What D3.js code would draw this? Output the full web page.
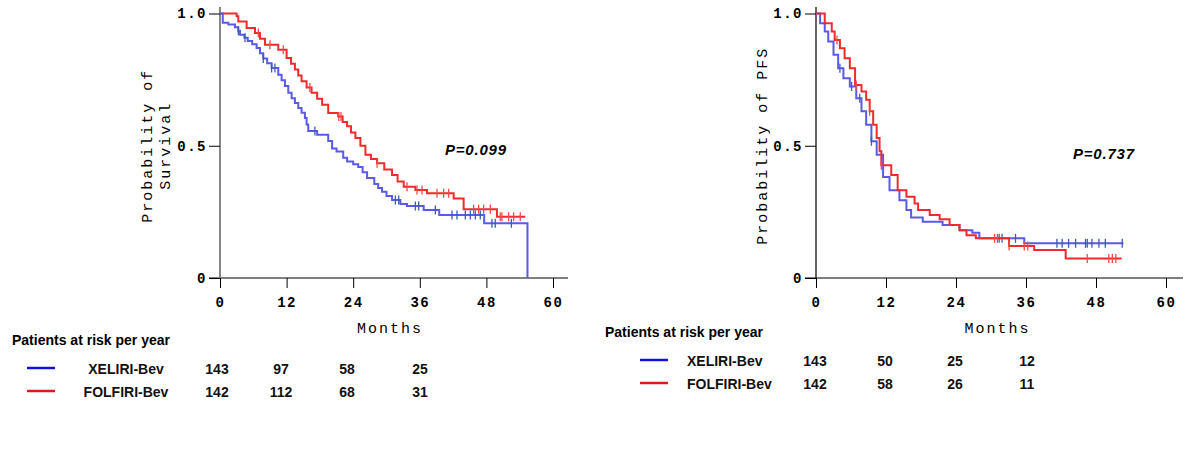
<!DOCTYPE html>
<html><head><meta charset="utf-8">
<script src="https://cdn.jsdelivr.net/npm/d3@7"></script>
<style>
body{margin:0;background:#fff;}
svg{display:block;}
.tick text{font-family:"Liberation Mono","Courier New",monospace;font-weight:bold;font-size:14px;letter-spacing:1.5px;}
</style></head>
<body>
<svg id="c" width="1200" height="458"></svg>
<script>
// ---------- data ----------
const xTickValues = [0, 12, 24, 36, 48, 60];
const yTickValues = [0, 0.5, 1.0];
const yTickLabels = ["0", "0.5", "1.0"];
const seriesNames = ["XELIRI-Bev", "FOLFIRI-Bev"];
const riskMonths = [0, 12, 24, 36];

// Overall survival (left)
const osXeliri = [[0,1],[0.5,0.965],[1.5,0.958],[2.7,0.948],[3.3,0.935],[3.6,0.92],[4.4,0.908],[5.0,0.896],[5.8,0.884],[6.6,0.87],[7.2,0.85],[7.8,0.83],[8.5,0.812],[9.3,0.794],[10.5,0.768],[11.1,0.748],[11.7,0.726],[12.3,0.70],[12.9,0.68],[13.5,0.662],[14.1,0.643],[14.7,0.625],[15.3,0.605],[15.6,0.58],[15.9,0.556],[17.5,0.542],[19.5,0.518],[20.2,0.49],[21.0,0.478],[22.2,0.455],[22.9,0.44],[24.0,0.43],[24.9,0.42],[25.7,0.40],[26.5,0.378],[27.8,0.355],[28.5,0.34],[29.2,0.326],[30.0,0.31],[31.0,0.295],[32.5,0.28],[33.7,0.272],[36.7,0.257],[39.5,0.238],[47.6,0.207],[55.4,0]];
const osFolfiri = [[0,1],[3.0,0.99],[3.3,0.97],[4.8,0.945],[6.3,0.926],[7.2,0.905],[8.1,0.882],[10.5,0.863],[12.0,0.832],[12.8,0.81],[13.5,0.788],[14.1,0.766],[14.7,0.744],[15.6,0.72],[16.5,0.70],[17.5,0.678],[18.4,0.655],[19.5,0.624],[21.3,0.611],[22.1,0.59],[22.9,0.574],[23.6,0.55],[24.4,0.529],[25.3,0.50],[26.2,0.466],[27.2,0.45],[28.3,0.434],[29.6,0.41],[31.0,0.389],[32.0,0.365],[33.1,0.345],[35.2,0.333],[37.3,0.32],[42.1,0.301],[43.9,0.26],[49.9,0.232],[55.0,0.232]];
const osXeliriCensor = [3.3,4.5,7.8,9.3,9.9,17.1,31.6,32.2,35.2,35.8,38.8,41.8,42.7,44.2,45.1,46.0,46.9,49.0,49.6,52.5];
const osFolfiriCensor = [6.9,9.0,11.4,16.2,21.4,21.8,28.3,33.7,35.5,36.4,39.1,40.3,41.2,45.7,46.6,47.5,48.7,50.5,50.8,52.0,52.9,54.1];
const osRiskXeliri = [143, 97, 58, 25];
const osRiskFolfiri = [142, 112, 68, 31];

// Progression-free survival (right)
const pfsXeliri = [[0,1],[0.7,0.963],[1.5,0.932],[2.1,0.894],[3.0,0.844],[3.8,0.793],[4.7,0.755],[5.8,0.724],[6.9,0.68],[7.8,0.63],[8.6,0.579],[9.5,0.517],[10.4,0.466],[11.5,0.382],[12.6,0.332],[14.3,0.294],[15.5,0.257],[16.3,0.229],[18.3,0.213],[21.7,0.2],[24.6,0.181],[26.8,0.171],[28.0,0.15],[35.7,0.131],[52.7,0.131]];
const pfsFolfiri = [[0,1],[1.5,0.963],[2.7,0.932],[3.2,0.9],[4.1,0.869],[4.9,0.831],[5.8,0.793],[6.7,0.73],[7.8,0.705],[8.6,0.674],[9.2,0.63],[9.8,0.579],[10.4,0.529],[10.9,0.479],[11.2,0.426],[12.9,0.389],[14.0,0.332],[15.5,0.307],[16.9,0.282],[17.5,0.257],[19.5,0.238],[21.2,0.222],[22.9,0.2],[24.6,0.181],[25.8,0.162],[27.4,0.15],[33.1,0.121],[37.4,0.106],[42.8,0.074],[52.4,0.074]];
const pfsXeliriCensor = [4.1,6.1,7.5,9.5,31.4,31.9,34.2,41.3,42.2,43.3,44.5,46.2,46.5,47.3,48.5,49.6,52.5];
const pfsFolfiriCensor = [3.6,6.9,9.2,11.2,30.6,31.1,33.1,35.7,36.3,46.5,50.2,50.8,51.4];
const pfsRiskXeliri = [143, 50, 25, 12];
const pfsRiskFolfiri = [142, 58, 26, 11];

// ---------- drawing ----------
const svg = d3.select("#c");
const monoFont = '"Liberation Mono","Courier New",monospace';
const sansFont = '"Liberation Sans",Arial,sans-serif';
const lineBlue = "#5a5ae6", censorBlue = "#3d5cae", lineRed = "#ef2b2b", censorRed = "#f24a4a";

function stepValue(data, t) {
  let v = data[0][1];
  for (const d of data) { if (d[0] <= t) v = d[1]; else break; }
  return v;
}

function panel(cfg) {
  const x = d3.scaleLinear().domain([0, 60]).range(cfg.xr);
  const y = d3.scaleLinear().domain([0, 1]).range([278, 13.5]);
  const g = svg.append("g");

  // axes lines
  g.append("line").attr("x1", x(0) - 11).attr("x2", cfg.xEnd).attr("y1", y(0)).attr("y2", y(0))
    .attr("stroke", "#000").attr("stroke-width", 1.2);
  g.append("line").attr("x1", x(0)).attr("x2", x(0)).attr("y1", y(0)).attr("y2", 7)
    .attr("stroke", cfg.yAxisColor).attr("stroke-width", cfg.yAxisWidth);

  const ax = g.append("g").attr("transform", `translate(0,${y(0)})`)
    .call(d3.axisBottom(x).tickValues(xTickValues).tickSize(10).tickPadding(6));
  ax.select(".domain").remove();
  ax.selectAll(".tick line").attr("stroke", "#000");
  ax.selectAll(".tick text").attr("fill", "#000").attr("dy", "0.9em");

  const ay = g.append("g").attr("transform", `translate(${x(0)},0)`)
    .call(d3.axisLeft(y).tickValues(yTickValues).tickSize(11).tickPadding(2)
      .tickFormat((d, i) => yTickLabels[i]));
  ay.select(".domain").remove();
  ay.selectAll(".tick line").attr("stroke", "#000");
  ay.selectAll(".tick text").attr("fill", "#000");

  const line = d3.line().x(d => x(d[0])).y(d => y(d[1])).curve(d3.curveStepAfter);
  const series = [
    {data: cfg.blue, censor: cfg.blueC, lc: lineBlue, cc: censorBlue},
    {data: cfg.red, censor: cfg.redC, lc: lineRed, cc: censorRed}
  ];
  cfg.order.forEach(i => {
    const s = series[i];
    g.append("path").datum(s.data).attr("d", line).attr("fill", "none")
      .attr("stroke", s.lc).attr("stroke-width", 2);
    g.selectAll(null).data(s.censor).enter().append("line")
      .attr("x1", d => x(d)).attr("x2", d => x(d))
      .attr("y1", d => y(stepValue(s.data, d)) - 4.5)
      .attr("y2", d => y(stepValue(s.data, d)) + 4.5)
      .attr("stroke", s.cc).attr("stroke-width", 1.3);
  });

  // axis titles
  const tx = cfg.titleX, ty = (y(0) + y(1)) / 2;
  const tt = g.append("text").attr("transform", `translate(${tx},${ty}) rotate(-90)`)
    .attr("text-anchor", "middle").attr("font-family", monoFont).attr("font-size", 15)
    .attr("letter-spacing", 2).attr("fill", "#000");
  cfg.title.forEach((t, i) => tt.append("tspan").attr("x", 0).attr("dy", i === 0 ? 0 : 18).text(t));

  g.append("text").attr("x", (x(0) + cfg.xEnd) / 2 + cfg.monthsDx).attr("y", 333)
    .attr("text-anchor", "middle").attr("font-family", monoFont).attr("font-size", 15)
    .attr("letter-spacing", 2).attr("fill", "#000").text("Months");

  g.append("text").attr("x", cfg.pX).attr("y", cfg.pY).attr("font-family", sansFont)
    .attr("font-size", 15).attr("font-weight", "bold").attr("font-style", "italic")
    .attr("letter-spacing", 0.8).attr("fill", "#000").text(cfg.pText);

  // risk table
  const L = cfg.legend;
  g.append("text").attr("x", L.titleX).attr("y", L.titleY).attr("font-family", sansFont)
    .attr("font-size", 14).attr("font-weight", "bold").attr("fill", "#000")
    .text("Patients at risk per year");
  const rows = [
    {name: seriesNames[0], vals: cfg.riskBlue, color: "#1010e0", y: L.row1},
    {name: seriesNames[1], vals: cfg.riskRed, color: "#e01818", y: L.row2}
  ];
  rows.forEach(r => {
    g.append("line").attr("x1", L.lineX[0]).attr("x2", L.lineX[1])
      .attr("y1", r.y - 6).attr("y2", r.y - 6).attr("stroke", r.color).attr("stroke-width", 2.5);
    g.append("text").attr("x", L.nameX).attr("y", r.y).attr("text-anchor", L.nameAnchor)
      .attr("font-family", sansFont).attr("font-size", 14).attr("font-weight", "bold")
      .attr("fill", "#111").text(r.name);
    g.selectAll(null).data(r.vals).enter().append("text")
      .attr("x", (d, i) => L.colX[i]).attr("y", r.y).attr("text-anchor", "middle")
      .attr("font-family", sansFont).attr("font-size", 14).attr("font-weight", "bold")
      .attr("fill", "#111").text(d => d);
  });
}

panel({
  xr: [220, 553], xEnd: 568, yAxisColor: "#7a7a7a", yAxisWidth: 1.8,
  blue: osXeliri, red: osFolfiri, blueC: osXeliriCensor, redC: osFolfiriCensor, order: [1, 0],
  title: ["Probability of", "Survival"], titleX: 152, monthsDx: -4,
  pText: "P=0.099", pX: 445, pY: 155,
  riskBlue: osRiskXeliri, riskRed: osRiskFolfiri,
  legend: {titleX: 12, titleY: 345, row1: 374, row2: 397, lineX: [27, 55], nameX: 126,
           nameAnchor: "middle", colX: [217, 281, 347, 420]}
});
panel({
  xr: [816, 1166], xEnd: 1183, yAxisColor: "#000", yAxisWidth: 1.2,
  blue: pfsXeliri, red: pfsFolfiri, blueC: pfsXeliriCensor, redC: pfsFolfiriCensor, order: [0, 1],
  title: ["Probability of PFS"], titleX: 767, monthsDx: -2,
  pText: "P=0.737", pX: 1073, pY: 159,
  riskBlue: pfsRiskXeliri, riskRed: pfsRiskFolfiri,
  legend: {titleX: 605, titleY: 337, row1: 366, row2: 389, lineX: [640, 668], nameX: 687,
           nameAnchor: "start", colX: [815, 885, 955, 1027]}
});
</script>
</body></html>
